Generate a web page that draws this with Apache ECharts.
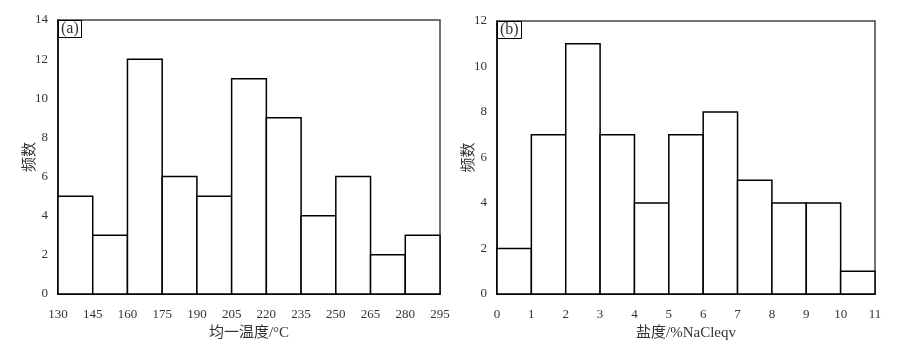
<!DOCTYPE html>
<html>
<head>
<meta charset="utf-8">
<script src="https://cdn.jsdelivr.net/npm/echarts@6/dist/echarts.min.js"></script>
<style>
  html, body { margin: 0; padding: 0; background: #fff; }
  #main { width: 902px; height: 351px; }
</style>
</head>
<body>
<div id="main"></div>
<script>
// bin edges and counts
const tempEdges = [130, 145, 160, 175, 190, 205, 220, 235, 250, 265, 280, 295]
const tempCounts = [5, 3, 12, 6, 5, 11, 9, 4, 6, 2, 3]
const salEdges = [0, 1, 2, 3, 4, 5, 6, 7, 8, 9, 10, 11]
const salCounts = [2, 7, 11, 7, 4, 7, 8, 5, 4, 4, 1]

const FONT = "'Liberation Serif', 'Noto Sans CJK SC', serif"
const textColor = '#333'

const myChart = echarts.init(document.getElementById('main'))

function toBins(edges, counts) {
  return counts.map((c, i) => [edges[i], edges[i + 1], c])
}

function renderBin(params, api) {
  const p0 = api.coord([api.value(0), api.value(2)])
  const p1 = api.coord([api.value(1), 0])
  return {
    type: 'rect',
    shape: { x: p0[0], y: p0[1], width: p1[0] - p0[0], height: p1[1] - p0[1] },
    style: { fill: '#fff', stroke: '#000', lineWidth: 1.5 }
  }
}

function xAxisConf(gridIndex, min, max, interval, name) {
  return {
    gridIndex: gridIndex,
    type: 'value',
    min: min, max: max, interval: interval,
    name: name,
    nameLocation: 'middle',
    nameGap: 32,
    nameMoveOverlap: false,
    nameTextStyle: { fontFamily: FONT, fontSize: 15, color: textColor },
    axisLine: { show: true, lineStyle: { color: '#000', width: 1.5 } },
    axisTick: { show: false },
    splitLine: { show: false },
    axisLabel: { margin: 14, fontFamily: FONT, fontSize: 13, color: textColor }
  }
}

function yAxisConf(gridIndex, max) {
  return {
    gridIndex: gridIndex,
    type: 'value',
    min: 0, max: max, interval: 2,
    name: '频数',
    nameLocation: 'middle',
    nameGap: 20,
    nameMoveOverlap: false,
    nameTextStyle: { fontFamily: FONT, fontSize: 15, color: textColor },
    axisLine: { show: true, lineStyle: { color: '#000', width: 1.5 } },
    axisTick: { show: false },
    splitLine: { show: false },
    axisLabel: { margin: 10, fontFamily: FONT, fontSize: 13, color: textColor }
  }
}

function tagConf(text, left, top) {
  return {
    text: text,
    left: left, top: top,
    borderColor: '#000', borderWidth: 1,
    padding: [1, 3, 1, 3],
    textStyle: { fontFamily: FONT, fontSize: 16, fontWeight: 'normal', color: textColor }
  }
}

const option = {
  animation: false,
  title: [tagConf('(a)', 58, 20), tagConf('(b)', 497, 21)],
  grid: [
    { left: 58, right: 462, top: 20, bottom: 57, show: true, borderColor: '#444', borderWidth: 1.5 },
    { left: 497, right: 27, top: 21, bottom: 57, show: true, borderColor: '#444', borderWidth: 1.5 }
  ],
  xAxis: [
    xAxisConf(0, 130, 295, 15, '均一温度/°C'),
    xAxisConf(1, 0, 11, 1, '盐度/%NaCleqv')
  ],
  yAxis: [
    yAxisConf(0, 14),
    yAxisConf(1, 12)
  ],
  series: [
    { type: 'custom', xAxisIndex: 0, yAxisIndex: 0, renderItem: renderBin, data: toBins(tempEdges, tempCounts) },
    { type: 'custom', xAxisIndex: 1, yAxisIndex: 1, renderItem: renderBin, data: toBins(salEdges, salCounts) }
  ]
}

myChart.setOption(option)
</script>
</body>
</html>
